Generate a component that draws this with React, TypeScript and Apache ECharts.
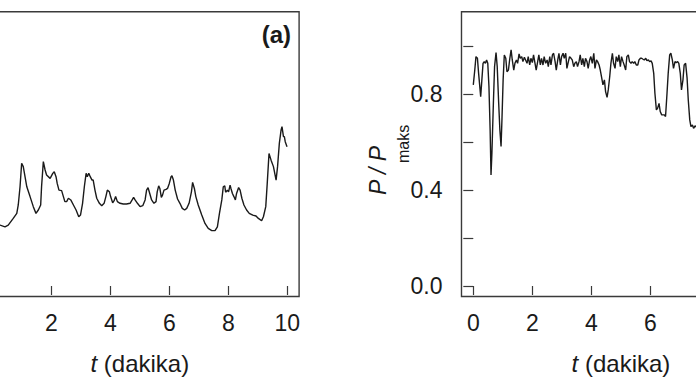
import React, { useEffect, useRef } from "react";
import * as echarts from "echarts";

// Time axis (minutes) tick labels visible in each panel
const leftXLabels = [2, 4, 6, 8, 10];
const rightXLabels = [0, 2, 4, 6];
// Right panel y tick labels that are printed
const yLabelValues = [0.0, 0.4, 0.8];
const xTitleItalic = "t";
const xTitleRest = " (dakika)";
const yTitleMain = "P / P";
const yTitleSub = "maks";
const panelLabel = "(a)";

// Panel (a): [t (min), value]
const leftT = [0, 0.26, 0.43, 0.54, 0.71, 0.83, 0.88, 0.94, 0.995, 1.05, 1.17, 1.28, 1.39, 1.48, 1.56, 1.64, 1.67, 1.73, 1.79, 1.84, 1.96, 2.05, 2.1, 2.16, 2.2, 2.26, 2.35, 2.41, 2.46, 2.52, 2.58, 2.66, 2.75, 2.84, 2.93, 2.99, 3.06, 3.12, 3.18, 3.22, 3.27, 3.32, 3.38, 3.42, 3.48, 3.54, 3.63, 3.71, 3.79, 3.85, 3.9, 3.97, 4.01, 4.08, 4.13, 4.18, 4.24, 4.33, 4.44, 4.55, 4.67, 4.74, 4.79, 4.84, 4.92, 5.01, 5.1, 5.18, 5.23, 5.28, 5.32, 5.4, 5.48, 5.55, 5.59, 5.64, 5.68, 5.73, 5.77, 5.82, 5.89, 5.94, 6.0, 6.06, 6.09, 6.14, 6.2, 6.28, 6.36, 6.44, 6.52, 6.59, 6.67, 6.75, 6.79, 6.85, 6.9, 6.98, 7.1, 7.21, 7.32, 7.44, 7.55, 7.63, 7.7, 7.78, 7.83, 7.88, 7.91, 7.97, 8.01, 8.06, 8.09, 8.14, 8.19, 8.24, 8.28, 8.35, 8.4, 8.46, 8.53, 8.62, 8.71, 8.83, 8.94, 9.02, 9.13, 9.19, 9.27, 9.32, 9.38, 9.45, 9.53, 9.62, 9.67, 9.73, 9.79, 9.82, 9.87, 9.9, 9.93, 9.99];
const leftV = [0.26, 0.254, 0.247, 0.254, 0.282, 0.303, 0.338, 0.414, 0.512, 0.498, 0.414, 0.373, 0.331, 0.303, 0.317, 0.338, 0.414, 0.519, 0.484, 0.463, 0.449, 0.47, 0.477, 0.456, 0.428, 0.4, 0.398, 0.373, 0.352, 0.352, 0.366, 0.359, 0.338, 0.317, 0.289, 0.296, 0.345, 0.414, 0.47, 0.456, 0.47, 0.456, 0.442, 0.442, 0.4, 0.366, 0.345, 0.335, 0.345, 0.373, 0.4, 0.393, 0.373, 0.347, 0.356, 0.373, 0.352, 0.345, 0.342, 0.342, 0.345, 0.359, 0.37, 0.359, 0.345, 0.331, 0.335, 0.359, 0.4, 0.41, 0.393, 0.359, 0.345, 0.352, 0.393, 0.418, 0.407, 0.37, 0.379, 0.4, 0.403, 0.407, 0.428, 0.456, 0.46, 0.442, 0.4, 0.363, 0.345, 0.324, 0.317, 0.324, 0.345, 0.393, 0.432, 0.407, 0.373, 0.338, 0.296, 0.261, 0.24, 0.231, 0.231, 0.247, 0.303, 0.359, 0.414, 0.418, 0.391, 0.4, 0.393, 0.421, 0.407, 0.386, 0.373, 0.359, 0.386, 0.411, 0.4, 0.366, 0.338, 0.317, 0.303, 0.296, 0.292, 0.282, 0.272, 0.289, 0.331, 0.428, 0.553, 0.525, 0.498, 0.442, 0.498, 0.595, 0.651, 0.665, 0.623, 0.623, 0.602, 0.581];

// Panel (b): [t (min), P / P_maks]
const rightT = [0.0, 0.05, 0.09, 0.14, 0.18, 0.25, 0.29, 0.33, 0.37, 0.41, 0.45, 0.49, 0.53, 0.57, 0.6, 0.63, 0.68, 0.72, 0.77, 0.81, 0.86, 0.9, 0.94, 0.97, 1.01, 1.05, 1.1, 1.14, 1.19, 1.23, 1.28, 1.32, 1.37, 1.41, 1.46, 1.5, 1.55, 1.59, 1.64, 1.68, 1.73, 1.77, 1.82, 1.86, 1.91, 1.95, 2.0, 2.04, 2.09, 2.13, 2.18, 2.22, 2.27, 2.31, 2.36, 2.4, 2.45, 2.5, 2.54, 2.59, 2.63, 2.68, 2.72, 2.77, 2.81, 2.86, 2.9, 2.95, 2.99, 3.04, 3.08, 3.13, 3.17, 3.22, 3.26, 3.31, 3.35, 3.4, 3.44, 3.49, 3.53, 3.58, 3.62, 3.67, 3.71, 3.76, 3.8, 3.85, 3.89, 3.94, 3.98, 4.03, 4.08, 4.12, 4.17, 4.21, 4.26, 4.3, 4.35, 4.39, 4.44, 4.48, 4.53, 4.57, 4.62, 4.66, 4.71, 4.75, 4.8, 4.84, 4.89, 4.93, 4.98, 5.02, 5.07, 5.11, 5.16, 5.2, 5.25, 5.29, 5.34, 5.38, 5.43, 5.47, 5.52, 5.57, 5.61, 5.66, 5.7, 5.75, 5.79, 5.84, 5.88, 5.93, 5.97, 6.02, 6.06, 6.11, 6.15, 6.2, 6.24, 6.29, 6.33, 6.38, 6.42, 6.47, 6.51, 6.56, 6.6, 6.65, 6.69, 6.74, 6.78, 6.83, 6.87, 6.92, 6.96, 7.01, 7.05, 7.1, 7.14, 7.19, 7.24, 7.28, 7.33, 7.37, 7.42, 7.46, 7.51, 7.54, 7.6];
const rightV = [0.839, 0.901, 0.957, 0.95, 0.887, 0.79, 0.86, 0.929, 0.936, 0.929, 0.943, 0.929, 0.832, 0.651, 0.463, 0.554, 0.762, 0.915, 0.974, 0.915, 0.762, 0.651, 0.582, 0.693, 0.86, 0.964, 0.95, 0.894, 0.901, 0.943, 0.985, 0.943, 0.901, 0.929, 0.943, 0.929, 0.968, 0.95, 0.957, 0.936, 0.954, 0.943, 0.929, 0.957, 0.922, 0.95, 0.932, 0.964, 0.929, 0.901, 0.936, 0.964, 0.922, 0.95, 0.922, 0.957, 0.929, 0.943, 0.915, 0.957, 0.922, 0.964, 0.971, 0.936, 0.901, 0.943, 0.971, 0.922, 0.957, 0.971, 0.95, 0.971, 0.908, 0.936, 0.957, 0.95, 0.943, 0.915, 0.929, 0.936, 0.915, 0.936, 0.964, 0.922, 0.95, 0.915, 0.95, 0.936, 0.908, 0.943, 0.957, 0.929, 0.971, 0.908, 0.943, 0.936, 0.922, 0.901, 0.867, 0.839, 0.86, 0.811, 0.787, 0.818, 0.874, 0.929, 0.971, 0.929, 0.908, 0.957, 0.936, 0.964, 0.915, 0.957, 0.936, 0.922, 0.901, 0.957, 0.964, 0.936, 0.929, 0.936, 0.929, 0.936, 0.922, 0.922, 0.943, 0.95, 0.95, 0.946, 0.943, 0.95, 0.94, 0.943, 0.936, 0.939, 0.929, 0.887, 0.804, 0.735, 0.741, 0.762, 0.728, 0.714, 0.714, 0.714, 0.707, 0.804, 0.887, 0.964, 0.971, 0.943, 0.908, 0.936, 0.932, 0.936, 0.929, 0.887, 0.818, 0.86, 0.922, 0.929, 0.867, 0.776, 0.693, 0.665, 0.672, 0.658, 0.668, 0.665, 0.66];

const FONT = "'Liberation Sans', Arial, Helvetica, sans-serif";
const INK = "#1a1a1a";
const FRAME = "#3a3a3a";

export default function App() {
  const ref = useRef<HTMLDivElement>(null);

  useEffect(() => {
    if (!ref.current) return;
    const chart = echarts.init(ref.current, null, { renderer: "svg" });

    const xAxisFor = (gridIndex: number, shown: number[]) => ({
      type: "value",
      gridIndex,
      min: 0,
      max: 10,
      interval: 2,
      position: "bottom",
      offset: 10,
      axisLine: { show: false },
      axisTick: { show: true, length: 9, lineStyle: { color: FRAME, width: 1.2 } },
      axisLabel: {
        show: true,
        margin: 15,
        fontSize: 23,
        color: INK,
        fontFamily: FONT,
        formatter: (v: number) => (shown.includes(v) ? String(v) : ""),
      },
      splitLine: { show: false },
      name: `{i|${xTitleItalic}}{r|${xTitleRest}}`,
      nameLocation: "middle",
      nameGap: 55,
      nameTextStyle: {
        rich: {
          i: { fontStyle: "italic", fontSize: 24, fontFamily: FONT, color: INK },
          r: { fontSize: 24, fontFamily: FONT, color: INK },
        },
      },
    });

    chart.setOption({
      animation: false,
      backgroundColor: "#ffffff",
      grid: [
        { left: -7.7, top: 46.3, width: 295, height: 239.7, containLabel: false, outerBoundsMode: "none" },
        { left: 473.3, top: 46.3, width: 295.3, height: 239.7, containLabel: false, outerBoundsMode: "none" },
      ],
      xAxis: [xAxisFor(0, leftXLabels), xAxisFor(1, rightXLabels)],
      yAxis: [
        { type: "value", gridIndex: 0, min: 0, max: 1, show: false, splitLine: { show: false } },
        {
          type: "value",
          gridIndex: 1,
          min: 0,
          max: 1,
          interval: 0.2,
          position: "left",
          offset: 11.8,
          axisLine: { show: false },
          axisTick: { show: true, length: 10, lineStyle: { color: FRAME, width: 1.2 } },
          axisLabel: {
            margin: 19,
            fontSize: 23,
            color: INK,
            fontFamily: FONT,
            formatter: (v: number) =>
              yLabelValues.some((y) => Math.abs(y - v) < 1e-6) ? v.toFixed(1) : "",
          },
          splitLine: { show: false },
        },
      ],
      series: [
        {
          type: "line",
          xAxisIndex: 0,
          yAxisIndex: 0,
          data: leftT.map((t, i) => [t, leftV[i]]),
          showSymbol: false,
          symbol: "none",
          lineStyle: { color: INK, width: 1.4 },
        },
        {
          type: "line",
          xAxisIndex: 1,
          yAxisIndex: 1,
          data: rightT.map((t, i) => [t, rightV[i]]),
          showSymbol: false,
          symbol: "none",
          lineStyle: { color: INK, width: 1.4 },
        },
      ],
    });

    // Frame boxes (R-style: axis range extended by 4%)
    const frames: any[] = [];
    [0, 1].forEach((g) => {
      const p0 = chart.convertToPixel({ gridIndex: g } as any, [-0.4, -0.044]) as number[];
      const p1 = chart.convertToPixel({ gridIndex: g } as any, [10.4, 1.144]) as number[];
      frames.push({
        type: "rect",
        silent: true,
        shape: {
          x: Math.min(p0[0], p1[0]),
          y: Math.min(p0[1], p1[1]),
          width: Math.abs(p1[0] - p0[0]),
          height: Math.abs(p1[1] - p0[1]),
        },
        style: { fill: "none", stroke: FRAME, lineWidth: 1.4 },
      });
    });
    const lab = chart.convertToPixel({ gridIndex: 0 } as any, [10.4, 1.144]) as number[];

    chart.setOption({
      graphic: [
        ...frames,
        {
          type: "text",
          x: lab[0] - 8,
          y: lab[1] + 23,
          style: {
            text: panelLabel,
            font: `bold 24px ${FONT}`,
            fill: INK,
            textAlign: "right",
            textVerticalAlign: "middle",
          },
        },
        {
          type: "group",
          x: 378,
          y: 195,
          rotation: Math.PI / 2,
          children: [
            {
              type: "text",
              x: 0,
              y: 0,
              style: {
                text: yTitleMain,
                font: `italic 23px ${FONT}`,
                fill: INK,
                textAlign: "left",
                textVerticalAlign: "middle",
              },
            },
            {
              type: "text",
              x: 32,
              y: 25,
              style: {
                text: yTitleSub,
                font: `16px ${FONT}`,
                fill: INK,
                textAlign: "left",
                textVerticalAlign: "middle",
              },
            },
          ],
        },
      ],
    });

    return () => chart.dispose();
  }, []);

  return (
    <div
      ref={ref}
      style={{ position: "fixed", left: 0, top: 0, width: 696, height: 385, background: "#fff" }}
    />
  );
}
